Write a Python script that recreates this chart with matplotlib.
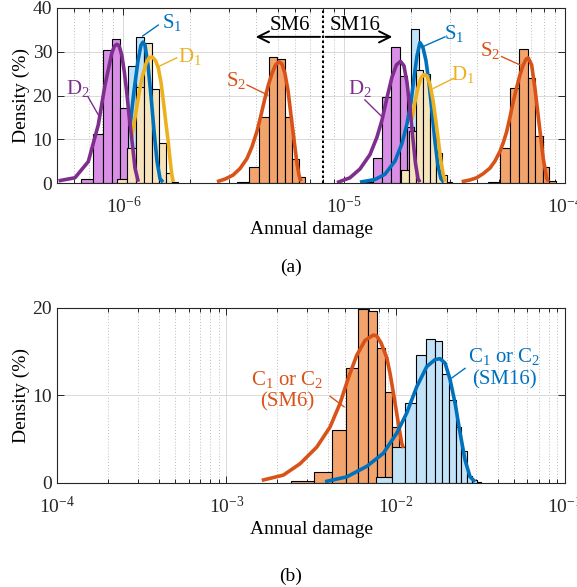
import matplotlib
matplotlib.use("Agg")
import matplotlib.pyplot as plt

plt.rcParams['font.family'] = ['Liberation Serif', 'DejaVu Serif']
plt.rcParams['mathtext.fontset'] = 'custom'
plt.rcParams['mathtext.rm'] = 'Liberation Serif'
plt.rcParams['mathtext.it'] = 'Liberation Serif:italic'
plt.rcParams['font.size'] = 14

# colours (MATLAB-like)
c_purple, c_blue, c_yellow, c_orange = '#7E2F8E', '#0072BD', '#EDB120', '#D95319'
f_purple, f_blue, f_wheat, f_orange = '#d98fe5', '#c2e2f8', '#f6e4bd', '#f2a46c'

# ---- (a) histograms: bin edges and densities (%) ----
# SM6
d2_sm6_edges = [6.45e-7, 7.25e-7, 8.05e-7, 8.85e-7, 9.65e-7, 10.45e-7, 11.25e-7, 12.05e-7]
d2_sm6_dens = [0.9, 11.1, 30.4, 33.0, 17.2, 4.0, 0.5]
s1_sm6_edges = [0.855e-6, 0.95e-6, 1.045e-6, 1.14e-6, 1.235e-6, 1.33e-6, 1.425e-6, 1.52e-6]
s1_sm6_dens = [0.5, 3.0, 26.7, 33.3, 25.0, 8.0, 1.5]
d1_sm6_edges = [0.93e-6, 1.035e-6, 1.14e-6, 1.245e-6, 1.35e-6, 1.455e-6, 1.56e-6, 1.665e-6, 1.77e-6]
d1_sm6_dens = [1.0, 8.0, 22.0, 32.1, 21.6, 9.1, 2.4, 0.3]
s2_sm6_edges = [3.28e-6, 3.70e-6, 4.12e-6, 4.54e-6, 4.96e-6, 5.38e-6, 5.80e-6, 6.22e-6, 6.64e-6]
s2_sm6_dens = [0.3, 3.6, 15.1, 28.7, 28.3, 15.0, 5.6, 1.4]
# SM16
d2_sm16_edges = [1.2e-5, 1.345e-5, 1.49e-5, 1.635e-5, 1.78e-5, 1.925e-5, 2.07e-5, 2.215e-5, 2.36e-5]
d2_sm16_dens = [0.3, 5.8, 19.7, 31.0, 24.4, 12.9, 3.0, 0.5]
s1_sm16_edges = [1.49e-5, 1.66e-5, 1.83e-5, 2.00e-5, 2.17e-5, 2.34e-5, 2.51e-5, 2.68e-5]
s1_sm16_dens = [0.3, 2.5, 11.0, 35.1, 25.0, 9.0, 1.5]
d1_sm16_edges = [1.80e-5, 1.96e-5, 2.12e-5, 2.28e-5, 2.44e-5, 2.60e-5, 2.76e-5, 2.92e-5, 3.08e-5]
d1_sm16_dens = [3.0, 12.0, 25.8, 25.0, 15.0, 6.8, 1.8, 0.3]
s2_sm16_edges = [4.50e-5, 5.07e-5, 5.64e-5, 6.21e-5, 6.78e-5, 7.35e-5, 7.92e-5, 8.49e-5, 9.06e-5]
s2_sm16_dens = [0.3, 8.0, 21.8, 30.6, 24.0, 10.7, 3.7, 0.4]

# ---- (a) fitted curves ----
d2_sm6_cx = [5.08e-7, 6.03e-7, 6.93e-7, 7.69e-7, 8.25e-7, 8.85e-7, 9.08e-7, 9.32e-7, 9.55e-7,
             9.82e-7, 1.009e-6, 1.034e-6, 1.060e-6, 1.090e-6, 1.128e-6, 1.167e-6]
d2_sm6_cy = [0.5, 1.2, 4.9, 13.3, 22.4, 29.6, 31.2, 31.7, 31.4, 29.3, 25.4, 20.9, 15.5, 10.2, 3.4, 0.3]
s1_sm6_cx = [1.071e-6, 1.116e-6, 1.164e-6, 1.2005e-6, 1.226e-6,
             1.252e-6, 1.291e-6, 1.332e-6, 1.375e-6, 1.419e-6, 1.464e-6, 1.510e-6]
s1_sm6_cy = [13, 21, 28, 31.5, 32.2, 31.5, 27, 20, 12, 5, 1, 0.2]
d1_sm6_cx = [1.090e-6, 1.128e-6, 1.167e-6, 1.213e-6, 1.265e-6, 1.305e-6, 1.351e-6, 1.397e-6,
             1.438e-6, 1.479e-6, 1.518e-6, 1.558e-6, 1.596e-6, 1.625e-6, 1.654e-6, 1.682e-6]
d1_sm6_cy = [10.2, 15, 19.5, 24, 27.3, 28.6, 28.8, 28.0, 26.3, 23, 18.5, 13.5, 9.3, 5.5, 2, 0.3]
s2_sm6_cx = [2.652e-6, 2.884e-6, 3.134e-6, 3.372e-6, 3.627e-6, 3.821e-6, 4.025e-6, 4.197e-6,
             4.375e-6, 4.538e-6, 4.706e-6, 4.882e-6, 5.062e-6, 5.223e-6, 5.389e-6, 5.561e-6,
             5.738e-6, 5.920e-6, 6.089e-6, 6.237e-6, 6.368e-6]
s2_sm6_cy = [0.3, 0.9, 1.8, 3.3, 5.6, 8.3, 11.8, 15.5, 19.4, 22.5, 25, 27, 27.7, 27.2, 25, 21.2,
             15.5, 10, 5, 1.8, 0.4]
d2_sm16_cx = [9.27e-6, 1.061e-5, 1.178e-5, 1.308e-5, 1.407e-5, 1.483e-5, 1.562e-5, 1.645e-5,
              1.724e-5, 1.798e-5, 1.864e-5, 1.924e-5, 1.985e-5, 2.048e-5, 2.102e-5, 2.158e-5, 2.203e-5]
d2_sm16_cy = [0.1, 1.2, 3.2, 6.5, 10.5, 14.4, 19.5, 24.2, 27, 27.8, 26.8, 23, 17, 10, 4.5, 1, 0.2]
s1_sm16_cx = [1.178e-5, 1.378e-5, 1.529e-5, 1.697e-5, 1.826e-5, 1.924e-5, 2.006e-5, 2.070e-5,
              2.135e-5, 2.203e-5, 2.272e-5, 2.345e-5, 2.419e-5, 2.496e-5, 2.576e-5, 2.658e-5,
              2.742e-5, 2.829e-5]
s1_sm16_cy = [0.2, 0.8, 2, 5, 9, 13.5, 18.5, 24, 29, 32.1, 31, 28, 23, 16.5, 9.5, 4, 1, 0.2]
d1_sm16_cx = [2.027e-5, 2.091e-5, 2.158e-5, 2.226e-5, 2.297e-5, 2.370e-5, 2.445e-5, 2.523e-5,
              2.603e-5, 2.672e-5, 2.742e-5, 2.814e-5, 2.874e-5]
d1_sm16_cy = [14.5, 18.5, 21.8, 24, 24.8, 24.5, 22.5, 19, 14, 9.5, 5, 1.8, 0.3]
s2_sm16_cx = [3.404e-5, 3.711e-5, 3.979e-5, 4.25e-5, 4.571e-5, 4.815e-5, 5.073e-5, 5.26e-5,
              5.44e-5, 5.63e-5, 5.83e-5, 6.04e-5, 6.25e-5, 6.45e-5, 6.655e-5, 6.815e-5, 7.06e-5,
              7.31e-5, 7.645e-5, 7.97e-5, 8.26e-5, 8.40e-5]
s2_sm16_cy = [0.3, 0.7, 1.2, 2.1, 3.4, 5.0, 7.2, 9.3, 11.7, 15, 18.6, 21.8, 24.7, 26.8, 28.3,
              28.6, 27, 21.6, 13.3, 5.6, 1.1, 0.3]
sm_split = 8e-6

# ---- (b) histograms and curves ----
c_sm6_edges = [2.42e-3, 3.31e-3, 4.20e-3, 5.09e-3, 5.98e-3, 6.87e-3, 7.76e-3, 8.65e-3, 9.54e-3,
               10.43e-3, 11.32e-3]
c_sm6_dens = [0.2, 1.2, 6.0, 13.1, 19.9, 19.7, 15.4, 10.4, 6.4, 1.5]
c_sm16_edges = [7.62e-3, 9.49e-3, 11.36e-3, 13.23e-3, 15.10e-3, 16.97e-3, 18.84e-3, 20.71e-3,
                22.58e-3, 24.45e-3, 26.32e-3, 28.19e-3, 30.06e-3, 31.93e-3]
c_sm16_dens = [0.7, 4.1, 9.1, 14.6, 16.5, 16.2, 12.5, 9.5, 6.4, 3.6, 0.8, 0.3, 0.1]
c_sm6_cx = [1.619e-3, 2.171e-3, 2.725e-3, 3.42e-3, 4.098e-3, 4.695e-3, 5.255e-3, 5.892e-3,
            6.597e-3, 7.385e-3, 7.733e-3, 8.20e-3, 8.863e-3, 9.267e-3, 9.692e-3, 1.0375e-2,
            1.0865e-2, 1.1105e-2]
c_sm6_cy = [0.3, 0.9, 2.2, 4.1, 6.4, 9.1, 12.0, 14.6, 16.3, 16.9, 16.8, 16.0, 14.3, 12.5, 10.3,
            6.8, 4.5, 4.0]
c_sm16_cx = [3.828e-3, 5.142e-3, 6.75e-3, 8.463e-3, 1.015e-2, 1.163e-2, 1.332e-2, 1.526e-2,
             1.709e-2, 1.829e-2, 1.958e-2, 2.096e-2, 2.244e-2, 2.402e-2, 2.570e-2, 2.751e-2, 2.944e-2]
c_sm16_cy = [0.15, 0.7, 1.9, 3.4, 5.7, 8.0, 11.0, 13.3, 14.1, 14.2, 13.7, 11.8, 9.1, 5.7, 2.6,
             0.7, 0.15]


def hist(ax, edges, dens, fc):
    widths = [b - a for a, b in zip(edges[:-1], edges[1:])]
    ax.bar(edges[:-1], dens, width=widths, align='edge', color=fc,
           edgecolor='k', linewidth=0.8)


def curve(ax, x, y, c):
    ax.plot(x, y, color=c, lw=2.6, solid_capstyle='butt')


def label(ax, txt, xy, line_from, line_to, c):
    ax.text(xy[0], xy[1], txt, color=c, ha='center', va='center', fontsize=15)
    ax.plot([line_from[0], line_to[0]], [line_from[1], line_to[1]], color=c, lw=1.0)


def style(ax, xlim, ylim, yticks):
    ax.set_xscale('log')
    ax.set_xlim(*xlim)
    ax.set_ylim(*ylim)
    ax.set_yticks(yticks)
    ax.grid(True, which='major', color='#d9d9d9', lw=0.7, ls='-')
    ax.grid(True, which='minor', axis='x', color='#bdbdbd', lw=0.7, ls=(0, (1, 2)))
    ax.set_axisbelow(True)
    ax.tick_params(which='both', direction='in', top=True, right=True,
                   colors='#262626', labelsize=14, width=0.7)
    ax.tick_params(which='major', length=5)
    ax.tick_params(which='minor', length=3)
    ax.tick_params(axis='x', which='major', pad=9)
    for s in ax.spines.values():
        s.set_color('#262626')
        s.set_linewidth(0.8)
    ax.set_xlabel('Annual damage', fontsize=14, labelpad=3)
    ax.set_ylabel('Density (%)', fontsize=14, labelpad=2)


fig = plt.figure(figsize=(5.77, 5.87), dpi=100)
ax1 = fig.add_axes([0.0988, 0.6882, 0.8804, 0.2982])
ax2 = fig.add_axes([0.0988, 0.1772, 0.8804, 0.2982])

# (a)
hist(ax1, s1_sm6_edges, s1_sm6_dens, f_blue)
hist(ax1, s1_sm16_edges, s1_sm16_dens, f_blue)
curve(ax1, s1_sm6_cx, s1_sm6_cy, c_blue)
curve(ax1, s1_sm16_cx, s1_sm16_cy, c_blue)
hist(ax1, d2_sm6_edges, d2_sm6_dens, f_purple)
hist(ax1, d2_sm16_edges, d2_sm16_dens, f_purple)
hist(ax1, d1_sm6_edges, d1_sm6_dens, f_wheat)
hist(ax1, d1_sm16_edges, d1_sm16_dens, f_wheat)
hist(ax1, s2_sm6_edges, s2_sm6_dens, f_orange)
hist(ax1, s2_sm16_edges, s2_sm16_dens, f_orange)
curve(ax1, d1_sm6_cx, d1_sm6_cy, c_yellow)
curve(ax1, d1_sm16_cx, d1_sm16_cy, c_yellow)
curve(ax1, d2_sm6_cx, d2_sm6_cy, c_purple)
curve(ax1, d2_sm16_cx, d2_sm16_cy, c_purple)
curve(ax1, s2_sm6_cx, s2_sm6_cy, c_orange)
curve(ax1, s2_sm16_cx, s2_sm16_cy, c_orange)

label(ax1, 'S$_1$', (1.66e-6, 36.6), (1.438e-6, 36.1), (1.222e-6, 33.6), c_blue)
label(ax1, 'D$_1$', (2.0e-6, 28.8), (1.742e-6, 28.6), (1.453e-6, 26.7), c_yellow)
label(ax1, 'D$_2$', (6.22e-7, 21.5), (6.91e-7, 19.7), (7.83e-7, 14.9), c_purple)
label(ax1, 'S$_2$', (3.25e-6, 23.5), (3.63e-6, 22.4), (4.51e-6, 20.1), c_orange)
label(ax1, 'S$_1$', (3.14e-5, 34.1), (2.86e-5, 33.4), (2.28e-5, 31.2), c_blue)
label(ax1, 'D$_1$', (3.45e-5, 24.9), (3.12e-5, 23.9), (2.53e-5, 21.6), c_yellow)
label(ax1, 'D$_2$', (1.178e-5, 21.7), (1.24e-5, 19.0), (1.50e-5, 14.9), c_purple)
label(ax1, 'S$_2$', (4.57e-5, 30.2), (5.16e-5, 28.9), (6.25e-5, 27.0), c_orange)

ax1.axvline(sm_split, color='k', lw=1.5, ls=(0, (1.2, 1.2)))
ax1.annotate('', xy=(3.86e-6, 33.4), xytext=(sm_split, 33.4),
             arrowprops=dict(arrowstyle='->', color='k', lw=1.4, mutation_scale=20))
ax1.annotate('', xy=(1.70e-5, 33.4), xytext=(sm_split, 33.4),
             arrowprops=dict(arrowstyle='->', color='k', lw=1.4, mutation_scale=20))
ax1.text(5.68e-6, 36.0, 'SM6', ha='center', va='center', fontsize=15)
ax1.text(1.118e-5, 36.0, 'SM16', ha='center', va='center', fontsize=15)

style(ax1, (5e-7, 1e-4), (0, 40), [0, 10, 20, 30, 40])

# (b)
hist(ax2, c_sm6_edges, c_sm6_dens, f_orange)
hist(ax2, c_sm16_edges, c_sm16_dens, f_blue)
curve(ax2, c_sm6_cx, c_sm6_cy, c_orange)
curve(ax2, c_sm16_cx, c_sm16_cy, c_blue)
ax2.text(2.29e-3, 10.6, 'C$_1$ or C$_2$\n(SM6)', color=c_orange, ha='center', va='center',
         fontsize=15, linespacing=1.2)
ax2.plot([4.10e-3, 4.96e-3], [9.9, 8.7], color=c_orange, lw=1.0)
ax2.text(4.37e-2, 13.2, 'C$_1$ or C$_2$\n(SM16)', color=c_blue, ha='center', va='center',
         fontsize=15, linespacing=1.2)
ax2.plot([2.57e-2, 2.145e-2], [13.1, 12.0], color=c_blue, lw=1.0)

style(ax2, (1e-4, 1e-1), (0, 20), [0, 10, 20])

fig.text(0.504, 1 - 267 / 587, '(a)', ha='center', va='center', fontsize=14)
fig.text(0.504, 1 - 576 / 587, '(b)', ha='center', va='center', fontsize=14)

fig.savefig('out.png', dpi=100)
